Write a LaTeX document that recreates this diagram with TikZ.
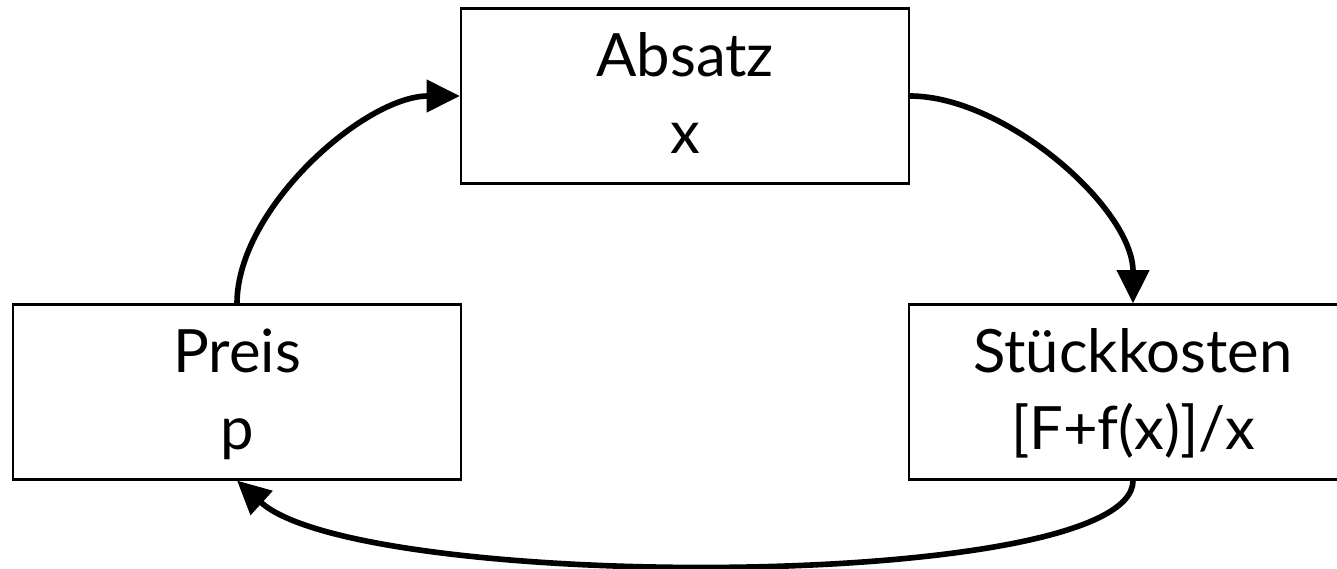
\documentclass[tikz,border=0pt]{standalone}
\usepackage{fontspec}
\setmainfont{Lato}
\usetikzlibrary{arrows.meta}
% struts that place the two text lines inside each box
\newcommand{\topstrut}{\rule{0pt}{16pt}}
\newcommand{\botstrut}{\rule[-5.2pt]{0pt}{5.2pt}}
\begin{document}
\begin{tikzpicture}[
  box/.style={draw, line width=0.6pt, minimum width=4.48cm, minimum height=1.75cm,
              inner sep=0pt, align=center,
              font=\fontsize{17}{21.8}\selectfont},
  flow/.style={line width=1.6pt, -{Triangle[length=9.5pt,width=9pt]}}
]
\useasboundingbox (0,0) rectangle (13.37,5.68);
\clip (0,0) rectangle (13.37,5.68);

% the three quantities of the cycle
\node[box] (absatz) at (6.85,4.72) {\topstrut Absatz\\x\botstrut};
\node[box] (preis)  at (2.37,1.76) {\topstrut Preis\\p\botstrut};
\node[box] (stueck) at (11.33,1.76) {\topstrut Stückkosten\\{[F+f(x)]/x}\botstrut};

% feedback loop
\draw[flow] (preis.north) to[out=90,in=180,looseness=0.8] (absatz.west);
\draw[flow] (absatz.east) to[out=0,in=90,looseness=0.8] (stueck.north);
\draw[flow] (stueck.south) .. controls +(0,-1.12) and +(1.23,-1.12) .. (preis.south);
\end{tikzpicture}
\end{document}
